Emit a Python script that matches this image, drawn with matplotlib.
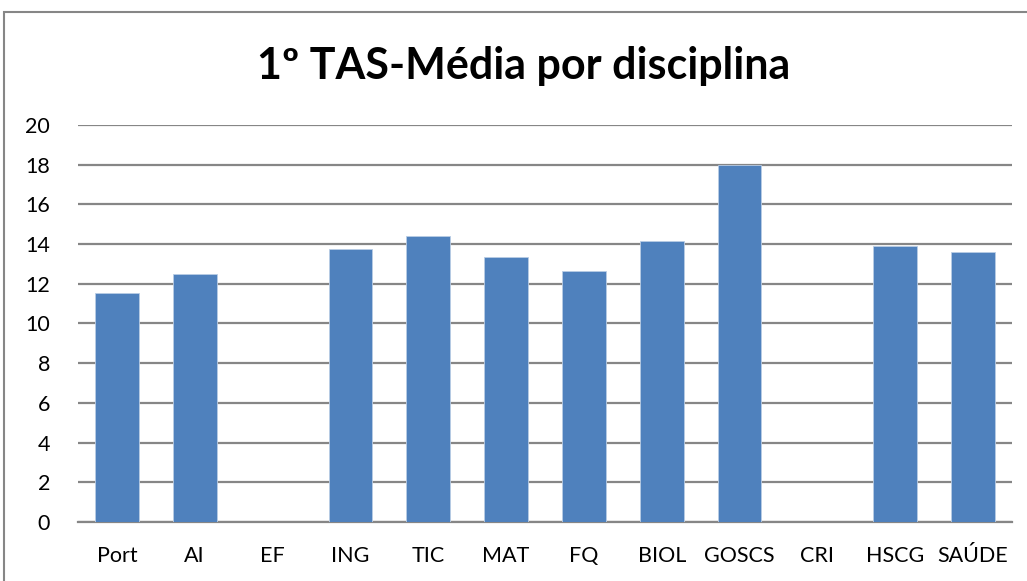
import matplotlib
matplotlib.use("Agg")
import matplotlib.pyplot as plt
from matplotlib.patches import Rectangle

# data
disciplinas = ["Port", "AI", "EF", "ING", "TIC", "MAT", "FQ", "BIOL", "GOSCS", "CRI", "HSCG", "SAÚDE"]
medias = [11.54, 12.49, 0, 13.77, 14.39, 13.34, 12.63, 14.14, 18.0, 0, 13.92, 13.62]
y_ticks = [0, 2, 4, 6, 8, 10, 12, 14, 16, 18, 20]

plt.rcParams['font.family'] = ['Lato', 'DejaVu Sans']

W, H = 1027, 581
fig = plt.figure(figsize=(W / 100, H / 100), dpi=100)

# plot area in pixels
left, right, top, bottom = 78, 1012, 125, 522
ax = fig.add_axes([left / W, 1 - bottom / H, (right - left) / W, (bottom - top) / H])

x = range(len(disciplinas))
ax.bar(x, medias, width=0.56, color="#4F81BD", edgecolor="#B9CDE5", linewidth=0.6, zorder=3)

ax.set_xlim(-0.5, len(disciplinas) - 0.5)
ax.set_ylim(0, 20)
ax.set_yticks(y_ticks)
ax.set_xticks(list(x))
ax.set_xticklabels(disciplinas, fontsize=15.5)
ax.tick_params(axis="y", labelsize=15.5, length=0, pad=20)
ax.tick_params(axis="x", length=0, pad=17)
ax.grid(axis="y", color="#868686", linewidth=1.6, zorder=0)
ax.set_axisbelow(True)
for s in ["left", "right", "top"]:
    ax.spines[s].set_visible(False)
ax.spines["bottom"].set_color("#868686")
ax.spines["bottom"].set_linewidth(1.6)

fig.text(0.51, 1 - 66 / H, "1º TAS-Média por disciplina", ha="center", va="center",
         fontsize=31, fontweight="bold")

# chart border
fig.patches.append(Rectangle((4 / W, -0.1), 1.2, 1 - 12 / H + 0.1, transform=fig.transFigure,
                             fill=False, edgecolor="#868686", linewidth=1.5))

fig.savefig("out.png", dpi=100)
